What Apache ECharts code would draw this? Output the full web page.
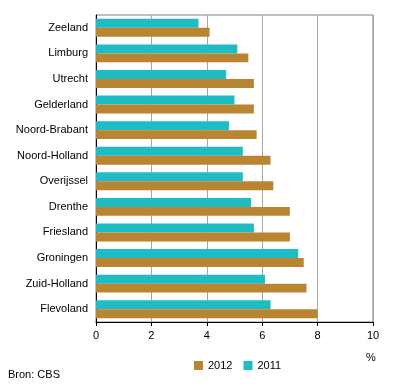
<!DOCTYPE html>
<html><head><meta charset="utf-8">
<script src="https://cdn.jsdelivr.net/npm/echarts@6/dist/echarts.min.js"></script>
<style>html,body{margin:0;padding:0;background:#fff}#c{width:396px;height:387px}</style>
</head><body><div id="c"></div>
<script>
const categories = ['Zeeland','Limburg','Utrecht','Gelderland','Noord-Brabant','Noord-Holland','Overijssel','Drenthe','Friesland','Groningen','Zuid-Holland','Flevoland'];
const values2012 = [4.1,5.5,5.7,5.7,5.8,6.3,6.4,7.0,7.0,7.5,7.6,8.0];
const values2011 = [3.7,5.1,4.7,5.0,4.8,5.3,5.3,5.6,5.7,7.3,6.1,6.3];
const xTicks = [0,2,4,6,8,10];

const chart = echarts.init(document.getElementById('c'), null, {renderer:'canvas'});
const font = 'Liberation Sans, Arial, sans-serif';
chart.setOption({
  animation:false,
  textStyle:{fontFamily:font},
  grid:{left:96,right:23,top:15,bottom:65,show:true,borderColor:'#808080',borderWidth:1},
  legend:{data:['2012','2011'],left:189,top:355,itemWidth:9,itemHeight:9,itemGap:11,icon:'rect',
    textStyle:{fontFamily:font,fontSize:11,color:'#000'}},
  xAxis:{type:'value',min:xTicks[0],max:xTicks[xTicks.length-1],interval:2,
    axisLine:{show:true,lineStyle:{color:'#000',width:1}},
    axisTick:{show:true,inside:false,length:4,lineStyle:{color:'#000'}},
    axisLabel:{fontFamily:font,fontSize:11,color:'#000',margin:8},
    splitLine:{show:true,lineStyle:{color:'#A6A6A6',width:1}}},
  yAxis:{type:'category',data:categories,inverse:true,
    axisLine:{show:true,lineStyle:{color:'#000',width:1}},
    axisTick:{show:false},
    axisLabel:{fontFamily:font,fontSize:11,color:'#000',margin:8}},
  series:[
    {name:'2011',type:'bar',data:values2011,itemStyle:{color:'#1FBCC6'},barCategoryGap:'30%',barGap:'0%'},
    {name:'2012',type:'bar',data:values2012,itemStyle:{color:'#BA8530'},barCategoryGap:'30%',barGap:'0%'}
  ],
  graphic:[
    {type:'text',left:366,top:352,style:{text:'%',font:'11px '+font,fill:'#000'}},
    {type:'text',left:8,top:369,style:{text:'Bron: CBS',font:'11px '+font,fill:'#000'}}
  ]
});
</script></body></html>
